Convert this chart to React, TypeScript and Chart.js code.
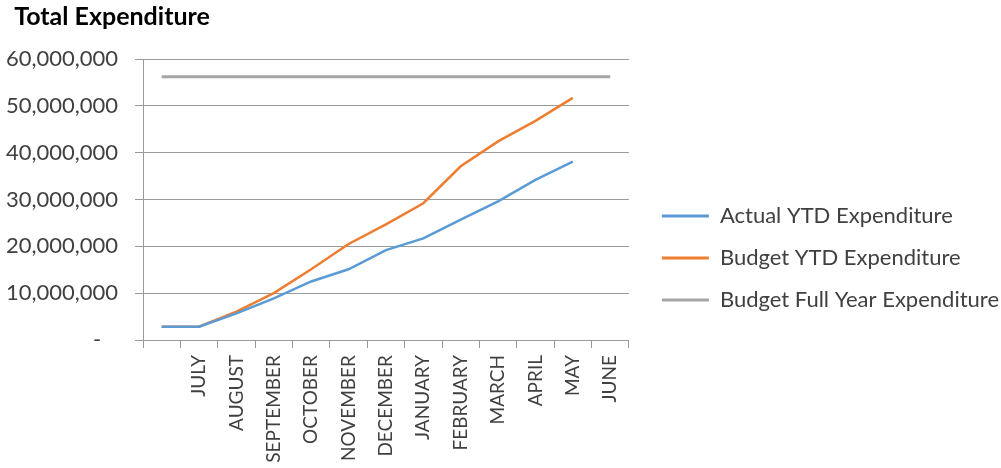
import React, { useEffect, useRef } from 'react';
import { Chart, registerables } from 'chart.js';

Chart.register(...registerables);

const titleText = '  Total Expenditure';
const categories = ['', 'JULY', 'AUGUST', 'SEPTEMBER', 'OCTOBER', 'NOVEMBER', 'DECEMBER', 'JANUARY', 'FEBRUARY', 'MARCH', 'APRIL', 'MAY', 'JUNE'];
const actualYTD = [2850000, 2850000, 5700000, 8900000, 12500000, 15100000, 19200000, 21700000, 25700000, 29600000, 34200000, 38100000, null];
const budgetYTD = [2850000, 2850000, 6050000, 10000000, 15100000, 20500000, 24700000, 29200000, 37100000, 42400000, 46800000, 51700000, null];
const budgetFullYear = [56200000, 56200000, 56200000, 56200000, 56200000, 56200000, 56200000, 56200000, 56200000, 56200000, 56200000, 56200000, 56200000];
const seriesNames = ['Actual YTD Expenditure', 'Budget YTD Expenditure', 'Budget Full Year Expenditure'];
const seriesColors = ['#5B9BD5', '#ED7D31', '#A5A5A5'];

const FONT = 'Lato';
const TEXT = '#404040';
const GRID = '#9a9a9a';

const legendShift = {
  id: 'legendShift',
  afterLayout(chart: any) {
    const lg = chart.legend;
    if (!lg) return;
    const targetY = 258; // desired vertical centre of legend items
    const dy = targetY - (lg.top + lg.bottom) / 2;
    lg.top += dy;
    lg.bottom += dy;
    lg.left += 13;
    lg.right += 13;
  },
};

export default function App() {
  const ref = useRef<HTMLCanvasElement | null>(null);

  useEffect(() => {
    if (!ref.current) return;
    const chart = new Chart(ref.current, {
      type: 'line',
      data: {
        labels: categories,
        datasets: [
          { label: seriesNames[0], data: actualYTD, borderColor: seriesColors[0], backgroundColor: seriesColors[0], borderWidth: 2.5, pointRadius: 0, tension: 0 },
          { label: seriesNames[1], data: budgetYTD, borderColor: seriesColors[1], backgroundColor: seriesColors[1], borderWidth: 2.5, pointRadius: 0, tension: 0 },
          { label: seriesNames[2], data: budgetFullYear, borderColor: seriesColors[2], backgroundColor: seriesColors[2], borderWidth: 3, pointRadius: 0, tension: 0 },
        ],
      },
      options: {
        animation: false,
        responsive: false,
        maintainAspectRatio: false,
        layout: { padding: { left: 2, right: 5, top: 0, bottom: 0 } },
        plugins: {
          title: {
            display: true,
            text: titleText,
            align: 'start',
            color: '#000',
            font: { family: FONT, size: 25, weight: 'bold' },
            padding: { top: 2, bottom: 27 },
          },
          legend: {
            position: 'right',
            maxWidth: 500,
            labels: {
              color: TEXT,
              font: { family: FONT, size: 22 },
              boxWidth: 47,
              boxHeight: 3,
              padding: 20,
              generateLabels: (c: any) => {
                const items = Chart.defaults.plugins.legend.labels.generateLabels(c);
                return items.map((it: any) => ({ ...it, lineWidth: 0, fillStyle: it.strokeStyle }));
              },
            },
          },
          tooltip: { enabled: false },
        },
        scales: {
          x: {
            offset: true,
            grid: { offset: true, drawOnChartArea: false, drawTicks: true, tickLength: 8, color: GRID },
            border: { color: GRID },
            ticks: {
              color: TEXT,
              font: { family: FONT, size: 19 },
              minRotation: 90,
              maxRotation: 90,
              autoSkip: false,
              padding: 7,
            },
            afterFit: (s: any) => { s.height = 128; },
          },
          y: {
            min: 0,
            max: 60000000,
            grid: { color: GRID, tickLength: 8, drawTicks: true },
            border: { color: GRID },
            ticks: {
              stepSize: 10000000,
              color: TEXT,
              font: { family: FONT, size: 22 },
              padding: 17,
              callback: (v: any) => (Number(v) === 0 ? '-   ' : Number(v).toLocaleString('en-US')),
            },
            afterFit: (s: any) => { s.width = 141; },
          },
        },
      },
      plugins: [legendShift],
    });
    return () => chart.destroy();
  }, []);

  return (
    <div style={{ position: 'absolute', left: 0, top: 0, width: 1001, height: 468, background: '#fff' }}>
      <canvas ref={ref} width={1001} height={468} style={{ width: 1001, height: 468 }} />
    </div>
  );
}
